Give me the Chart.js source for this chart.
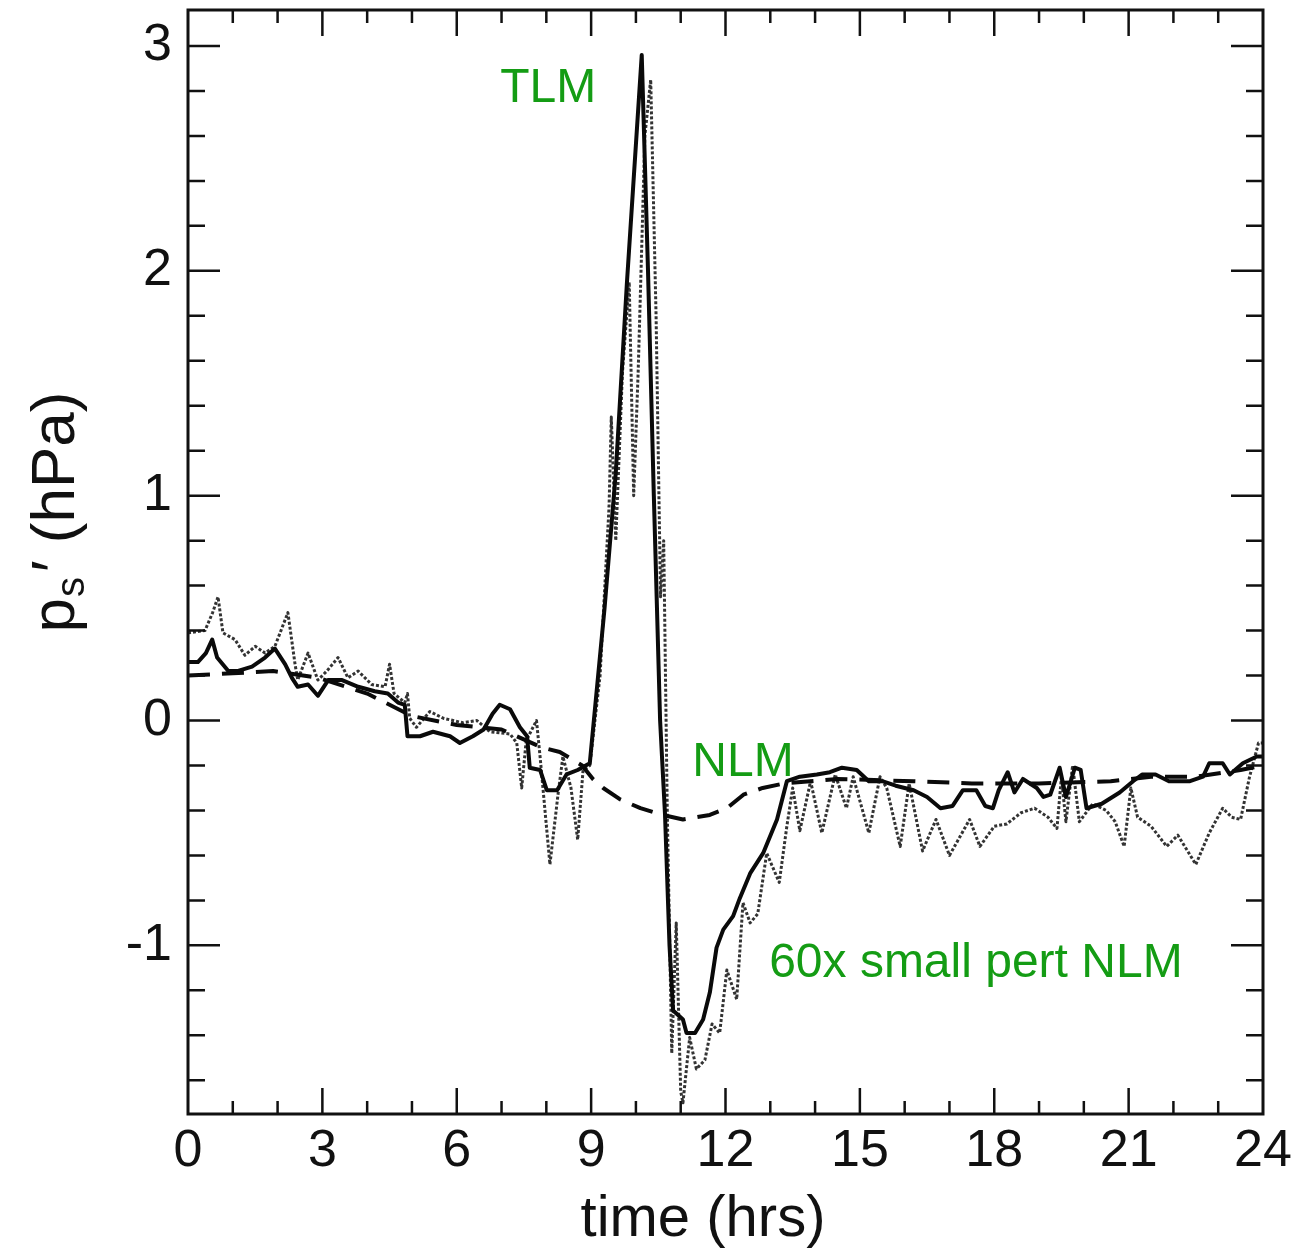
<!DOCTYPE html>
<html>
<head>
<meta charset="utf-8">
<script src="https://cdn.jsdelivr.net/npm/chart.js@4.4.1/dist/chart.umd.min.js"></script>
<style>
  html, body { margin: 0; padding: 0; background: #fff; }
  #grafico { display: block; }
</style>
</head>
<body>
<canvas id="grafico" width="1303" height="1251"></canvas>
<script>
const fonte = '"Liberation Sans", Arial, Helvetica, sans-serif';
const verde = '#149c14';

// eixos
const xTicks = [0, 3, 6, 9, 12, 15, 18, 21, 24];
const yTicks = [-1, 0, 1, 2, 3];

// linha cheia (preta grossa)
const solidHrs = [0, 0.22, 0.4, 0.54, 0.65, 0.9, 1.1, 1.43, 1.72, 1.94, 2.17, 2.32, 2.45, 2.68, 2.9, 3.13, 3.44, 3.8, 4.17, 4.46, 4.69, 4.84,
  4.9, 5.18, 5.47, 5.85, 6.07, 6.36, 6.6, 6.8, 6.96, 7.19, 7.41, 7.57, 7.63, 7.86, 8.01, 8.24, 8.45, 8.7, 8.97,
  9.3, 9.55, 9.8, 10.13, 10.27, 10.4, 10.54, 10.65, 10.75, 10.83, 11.05, 11.13, 11.32, 11.5, 11.65, 11.8, 11.95, 12.17, 12.32, 12.55, 12.84, 13.15, 13.37,
  13.66, 14.04, 14.33, 14.6, 14.93, 15.2, 15.5, 15.8, 16.2, 16.5, 16.8, 17.07, 17.3, 17.6, 17.8, 17.97, 18.1, 18.3, 18.45, 18.64, 18.95, 19.1, 19.25,
  19.46, 19.6, 19.8, 19.93, 20.06, 20.4, 20.8, 21.1, 21.3, 21.6, 21.9, 22.37, 22.66, 22.8, 23.1, 23.26, 23.55, 23.86, 24];
const solidVals = [0.26, 0.26, 0.3, 0.36, 0.28, 0.22, 0.22, 0.24, 0.28, 0.32, 0.25, 0.19, 0.15, 0.16, 0.11, 0.18, 0.18, 0.15, 0.13, 0.12, 0.08, 0.07,
  -0.07, -0.07, -0.05, -0.07, -0.1, -0.07, -0.04, 0.03, 0.07, 0.05, -0.03, -0.07, -0.21, -0.22, -0.31, -0.31, -0.24, -0.22, -0.19,
  0.5, 1.1, 1.95, 2.96, 2.0, 1.0, 0.0, -0.42, -1.0, -1.29, -1.33, -1.39, -1.39, -1.33, -1.21, -1.01, -0.93, -0.87, -0.79, -0.68, -0.59, -0.44, -0.27,
  -0.25, -0.24, -0.23, -0.21, -0.22, -0.27, -0.27, -0.29, -0.31, -0.34, -0.39, -0.38, -0.31, -0.31, -0.38, -0.39, -0.31, -0.23, -0.32, -0.26, -0.3, -0.34, -0.33,
  -0.21, -0.34, -0.21, -0.22, -0.39, -0.37, -0.32, -0.27, -0.24, -0.24, -0.27, -0.27, -0.25, -0.19, -0.19, -0.24, -0.19, -0.16, -0.16];

// linha tracejada
const dashHrs = [0, 1, 1.9, 2.9, 4.0, 5.0, 6.0, 7.0, 7.9, 8.3, 8.8, 9.04, 9.27, 9.64, 10.1, 10.6, 11.05, 11.65, 12.03, 12.4, 12.83, 13.3,
  14.5, 16.2, 17.5, 19, 20.6, 21.5, 22.5, 23.5, 24];
const dashVals = [0.2, 0.21, 0.22, 0.19, 0.12, 0.02, -0.02, -0.04, -0.12, -0.14, -0.2, -0.26, -0.3, -0.35, -0.39, -0.42, -0.44, -0.42, -0.39, -0.33, -0.3, -0.28,
  -0.26, -0.27, -0.28, -0.28, -0.27, -0.25, -0.25, -0.22, -0.2];

// linha pontilhada (cinza)
const dotHrs = [0, 0.38, 0.55, 0.67, 0.78, 1.05, 1.27, 1.5, 1.72, 1.94, 2.23, 2.39, 2.45, 2.68, 2.9, 3.1, 3.35, 3.57, 3.8, 4.1, 4.4, 4.5, 4.6, 4.84,
  4.9, 4.95, 5.1, 5.4, 5.7, 6.14, 6.45, 6.74, 7.19, 7.34, 7.45, 7.55, 7.78, 7.86, 8.08, 8.26, 8.37, 8.55, 8.7, 8.82, 8.97,
  9.2, 9.4, 9.45, 9.55, 9.7, 9.85, 9.95, 10.05, 10.2, 10.33, 10.45, 10.55, 10.62, 10.7, 10.8, 10.9, 11.0, 11.05, 11.2, 11.35, 11.54, 11.7, 11.87,
  12.03, 12.25, 12.39, 12.55, 12.72, 12.92, 13.2, 13.37, 13.5, 13.66, 13.9, 14.15, 14.45, 14.7, 14.85, 15.2, 15.45, 15.6, 15.9, 16.1, 16.4, 16.7,
  17.0, 17.45, 17.68, 18.0, 18.28, 18.6, 18.9, 19.2, 19.4, 19.5, 19.6, 19.75, 19.9, 20.2, 20.5, 20.7, 20.9, 21.05, 21.2, 21.5, 21.85, 22.1, 22.5,
  22.8, 23.1, 23.3, 23.5, 23.7, 23.9, 24];
const dotVals = [0.39, 0.4, 0.48, 0.55, 0.39, 0.36, 0.29, 0.33, 0.3, 0.33, 0.48, 0.25, 0.18, 0.3, 0.18, 0.22, 0.28, 0.19, 0.22, 0.16, 0.15, 0.25, 0.12, 0.08,
  0.12, 0.01, -0.03, 0.04, 0.01, -0.01, 0.0, -0.05, -0.06, -0.1, -0.3, -0.09, 0.0, -0.16, -0.64, -0.33, -0.16, -0.3, -0.53, -0.22, -0.2,
  0.2, 0.95, 1.35, 0.8, 1.55, 1.95, 1.0, 1.55, 2.6, 2.85, 1.8, 0.55, 0.8, -0.4, -1.48, -0.9, -1.65, -1.7, -1.41, -1.55, -1.51, -1.35, -1.39,
  -1.11, -1.24, -0.81, -0.9, -0.86, -0.59, -0.72, -0.47, -0.3, -0.49, -0.27, -0.5, -0.24, -0.39, -0.25, -0.5, -0.25, -0.3, -0.56, -0.28, -0.58, -0.44,
  -0.6, -0.44, -0.56, -0.47, -0.46, -0.41, -0.39, -0.43, -0.48, -0.25, -0.45, -0.2, -0.45, -0.37, -0.4, -0.45, -0.56, -0.3, -0.43, -0.47, -0.56, -0.51, -0.64,
  -0.5, -0.39, -0.43, -0.44, -0.25, -0.1, -0.1];

// rótulos verdes (posição em horas / hPa)
const rotulos = ['TLM', 'NLM', '60x small pert NLM'];
const rotuloHrs = [8.04, 12.39, 17.59];
const rotuloVals = [2.81, -0.19, -1.08];

function pontos(hrs, vals) {
  return hrs.map((h, i) => ({ x: h, y: vals[i] }));
}

// moldura, marcas internas, títulos e rótulos
const moldura = {
  id: 'moldura',
  afterDraw(chart) {
    const ctx = chart.ctx;
    const a = chart.chartArea;
    const sx = chart.scales.x;
    const sy = chart.scales.y;
    ctx.save();
    ctx.strokeStyle = '#111';

    // marcas do eixo x (embaixo e em cima)
    ctx.lineWidth = 2.5;
    for (let h = 1; h < 24; h++) {
      const px = sx.getPixelForValue(h);
      const len = h % 3 === 0 ? 26 : 13;
      ctx.beginPath();
      ctx.moveTo(px, a.bottom); ctx.lineTo(px, a.bottom - len);
      ctx.moveTo(px, a.top); ctx.lineTo(px, a.top + len);
      ctx.stroke();
    }
    // marcas do eixo y (esquerda e direita)
    for (let k = -8; k <= 15; k++) {
      const py = sy.getPixelForValue(k * 0.2);
      const len = k % 5 === 0 ? 32 : 17;
      ctx.beginPath();
      ctx.moveTo(a.left, py); ctx.lineTo(a.left + len, py);
      ctx.moveTo(a.right, py); ctx.lineTo(a.right - len, py);
      ctx.stroke();
    }

    ctx.lineWidth = 3;
    ctx.strokeRect(a.left, a.top, a.right - a.left, a.bottom - a.top);

    // título do eixo x
    ctx.fillStyle = '#111';
    ctx.font = '58px ' + fonte;
    ctx.textAlign = 'center';
    ctx.textBaseline = 'alphabetic';
    ctx.fillText('time (hrs)', 703, 1236);

    // título do eixo y com subscrito
    ctx.save();
    ctx.translate(74, 512);
    ctx.rotate(-Math.PI / 2);
    ctx.textAlign = 'left';
    const grande = '62px ' + fonte;
    const pequeno = '40px ' + fonte;
    ctx.font = grande;
    const wP = ctx.measureText('p').width;
    const wR = ctx.measureText('\u2032 (hPa)').width;
    ctx.font = pequeno;
    const wS = ctx.measureText('s').width;
    let x0 = -(wP + wS + wR + 6) / 2;
    ctx.font = grande;
    ctx.fillText('p', x0, 0);
    ctx.font = pequeno;
    ctx.fillText('s', x0 + wP + 1, 10);
    ctx.font = grande;
    ctx.fillText('\u2032 (hPa)', x0 + wP + wS + 6, 0);
    ctx.restore();

    // rótulos verdes
    ctx.fillStyle = verde;
    ctx.font = '48px ' + fonte;
    ctx.textAlign = 'center';
    ctx.textBaseline = 'middle';
    rotulos.forEach((t, i) => {
      ctx.fillText(t, sx.getPixelForValue(rotuloHrs[i]), sy.getPixelForValue(rotuloVals[i]));
    });
    ctx.restore();
  }
};

const ctx = document.getElementById('grafico').getContext('2d');
new Chart(ctx, {
  type: 'line',
  data: {
    datasets: [
      {
        label: 'NLM',
        data: pontos(solidHrs, solidVals),
        borderColor: '#0a0a0a',
        borderWidth: 4,
        order: 1
      },
      {
        label: 'TLM',
        data: pontos(dashHrs, dashVals),
        borderColor: '#0a0a0a',
        borderWidth: 4,
        borderDash: [22, 12],
        order: 2
      },
      {
        label: '60x small pert NLM',
        data: pontos(dotHrs, dotVals),
        borderColor: '#333',
        borderWidth: 3,
        borderDash: [3, 2],
        order: 3
      }
    ]
  },
  options: {
    responsive: false,
    animation: false,
    devicePixelRatio: 1,
    layout: { padding: { left: 0, right: 40, top: 10, bottom: 0 } },
    elements: { point: { radius: 0 }, line: { tension: 0, borderCapStyle: 'butt', borderJoinStyle: 'round' } },
    plugins: { legend: { display: false }, tooltip: { enabled: false } },
    scales: {
      x: {
        type: 'linear',
        min: 0,
        max: 24,
        grid: { display: false, drawTicks: false },
        border: { display: false },
        afterBuildTicks: s => { s.ticks = xTicks.map(v => ({ value: v })); },
        afterFit: s => { s.height = 137; s.paddingLeft = 0; s.paddingRight = 0; },
        ticks: { color: '#111', font: { family: fonte, size: 52 }, padding: 6, maxRotation: 0 }
      },
      y: {
        type: 'linear',
        min: -1.75,
        max: 3.16,
        grid: { display: false, drawTicks: false },
        border: { display: false },
        afterBuildTicks: s => { s.ticks = yTicks.map(v => ({ value: v })); },
        afterFit: s => { s.width = 188; s.paddingTop = 0; s.paddingBottom = 0; },
        ticks: { color: '#111', font: { family: fonte, size: 52 }, padding: 16 }
      }
    }
  },
  plugins: [moldura]
});
</script>
</body>
</html>
